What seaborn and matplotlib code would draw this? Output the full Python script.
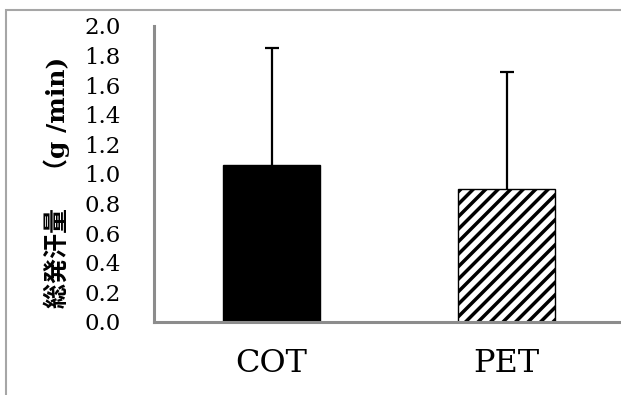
import matplotlib
matplotlib.use("Agg")
import matplotlib.pyplot as plt
import matplotlib.path as mpath
from matplotlib.patches import Rectangle
import numpy as np
import pandas as pd
import seaborn as sns

# Data: total sweat rate (g/min), mean and SD per garment type
categories = ["COT", "PET"]
means = [1.06, 0.90]
sds = [0.79, 0.79]
yticks = [0.0, 0.2, 0.4, 0.6, 0.8, 1.0, 1.2, 1.4, 1.6, 1.8, 2.0]
ylabel = "総発汗量　（g /min)"

# Denser diagonal hatch than the matplotlib default (even count keeps the tile seamless)
_hatch = mpath.Path.hatch
mpath.Path.hatch = staticmethod(lambda pattern, density=6: _hatch(pattern, 16))

sns.set_theme(style="white")
plt.rcParams["font.family"] = ["DejaVu Serif", "Noto Sans CJK JP"]
plt.rcParams["hatch.linewidth"] = 2.5
plt.rcParams["hatch.color"] = "black"

df = pd.DataFrame({"garment": categories, "rate": means})

fig = plt.figure(figsize=(6.21, 3.95), dpi=100)
ax = fig.add_axes([154 / 621, 1 - 322 / 395, 470 / 621, 296 / 395])

sns.barplot(data=df, x="garment", y="rate", order=categories, errorbar=None,
            width=0.41, color="black", ax=ax, zorder=2)

styles = [dict(facecolor="black", hatch=None), dict(facecolor="white", hatch="/")]
for patch, st in zip(ax.patches, styles):
    patch.set_facecolor(st["facecolor"])
    patch.set_edgecolor("black")
    patch.set_linewidth(1.0)
    if st["hatch"]:
        patch.set_hatch(st["hatch"])

# Upper-only SD error bars
xpos = np.arange(len(categories))
_, caps, _ = ax.errorbar(xpos, means, yerr=[np.zeros(len(sds)), sds], fmt="none",
                         ecolor="black", elinewidth=1.6, capsize=4.7,
                         capthick=1.6, zorder=3)
for cap in caps:
    if np.allclose(cap.get_ydata(), means):
        cap.set_visible(False)

ax.set_xlim(-0.5, 1.5)
ax.set_ylim(0, 2.0)
ax.set_yticks(yticks)
ax.set_yticklabels([f"{v:.1f}" for v in yticks])
ax.tick_params(axis="y", length=0, pad=24, labelsize=16.5, labelcolor="black")
ax.tick_params(axis="x", length=0, pad=19, labelsize=23, labelcolor="black")
ax.set_xlabel("")
ax.set_ylabel(ylabel, fontsize=18, fontweight="bold", color="black")
ax.yaxis.set_label_coords(-0.178, 0.473)

for side in ["top", "right"]:
    ax.spines[side].set_visible(False)
for side in ["left", "bottom"]:
    ax.spines[side].set_color("#8c8c8c")
    ax.spines[side].set_linewidth(2.2)

# Outer chart-area border (runs past the right and bottom edges)
fig.add_artist(Rectangle((6 / 621, -0.2), 1.3, 1.2 - 9.5 / 395,
                         transform=fig.transFigure, fill=False,
                         edgecolor="#a6a6a6", linewidth=1.5))

fig.savefig("out.png", dpi=100)
